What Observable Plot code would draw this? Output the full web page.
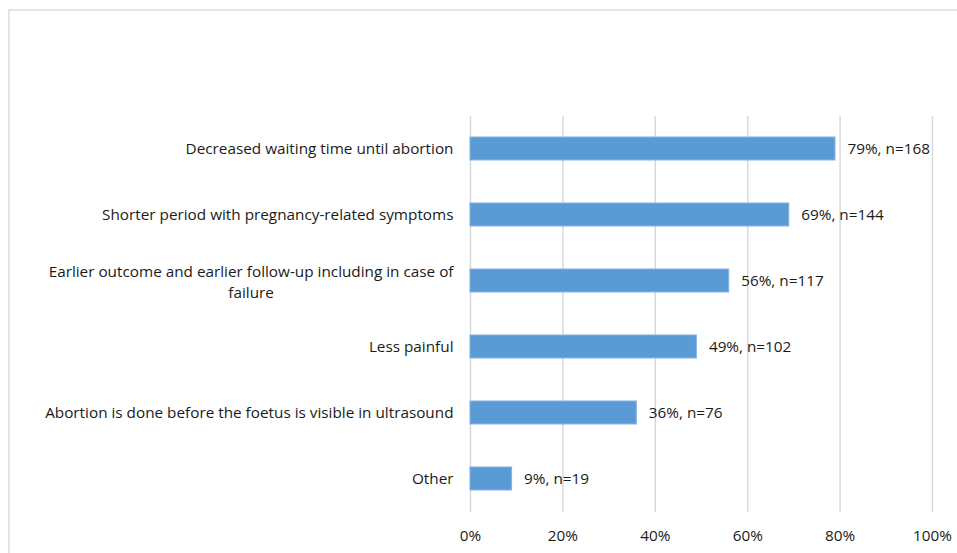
<!DOCTYPE html>
<html>
<head>
<meta charset="utf-8">
<script src="https://cdn.jsdelivr.net/npm/d3@7"></script>
<script src="https://cdn.jsdelivr.net/npm/@observablehq/plot@0.6"></script>
<style>
  html, body { margin: 0; padding: 0; background: #fff; }
  #wrap { position: relative; width: 957px; height: 553px; overflow: hidden; }
  #border { position: absolute; left: 8px; top: 9px; width: 980px; height: 580px; border: 2px solid #e4e4e4; box-sizing: border-box; }
  #chart { position: absolute; left: 0; top: 0; }
  svg { font-family: "Open Sans", sans-serif; }
</style>
</head>
<body>
<div id="wrap"><div id="border"></div><div id="chart"></div></div>
<script>
const categories = [
  "Decreased waiting time until abortion",
  "Shorter period with pregnancy-related symptoms",
  "Earlier outcome and earlier follow-up including in case of\nfailure",
  "Less painful",
  "Abortion is done before the foetus is visible in ultrasound",
  "Other"
];
const percents = [79, 69, 56, 49, 36, 9];
const counts = [168, 144, 117, 102, 76, 19];
const xTicks = [0, 20, 40, 60, 80, 100];

const data = categories.map((c, i) => ({cat: c, pct: percents[i], n: counts[i], wrapped: c.includes("\n")}));

const fontSize = 15.3;
const fontFam = "'Open Sans', sans-serif";
const ctx = document.createElement("canvas").getContext("2d");
ctx.font = `${fontSize}px 'Open Sans'`;
const firstLine = categories.find(c => c.includes("\n")).split("\n")[0];
const wrapW = ctx.measureText(firstLine).width;
const labelGap = 17;

const chart = Plot.plot({
  width: 957,
  height: 553,
  marginLeft: 470,
  marginRight: 25,
  marginTop: 116,
  marginBottom: 41,
  style: {fontFamily: fontFam, fontSize: fontSize + "px", color: "#1a1a1a", background: "transparent"},
  x: {domain: [0, 100], ticks: xTicks, tickFormat: d => d + "%", label: null},
  y: {domain: categories, paddingInner: 0.65, paddingOuter: 0.325, label: null, axis: null},
  marks: [
    Plot.ruleX(xTicks, {stroke: "#d9d9d9", strokeWidth: 1.5}),
    Plot.barX(data, {x: "pct", y: "cat", fill: "#5b9bd5", stroke: "#84b4e2", strokeWidth: 1}),
    Plot.text(data, {x: "pct", y: "cat", text: d => `${d.pct}%, n=${d.n}`, textAnchor: "start", dx: 12, fill: "#1a1a1a", fontSize: fontSize}),
    Plot.text(data.filter(d => !d.wrapped), {x: 0, y: "cat", text: "cat", textAnchor: "end", dx: -labelGap, fill: "#1a1a1a", fontSize: fontSize}),
    Plot.text(data.filter(d => d.wrapped), {x: 0, y: "cat", text: "cat", textAnchor: "middle", dx: -labelGap - wrapW / 2, lineHeight: 1.37, fill: "#1a1a1a", fontSize: fontSize}),
    Plot.axisX({ticks: xTicks, tickFormat: d => d + "%", tickSize: 0, tickPadding: 18, fontSize: fontSize, fill: "#1a1a1a", label: null})
  ]
});
document.getElementById("chart").appendChild(chart);
</script>
</body>
</html>
